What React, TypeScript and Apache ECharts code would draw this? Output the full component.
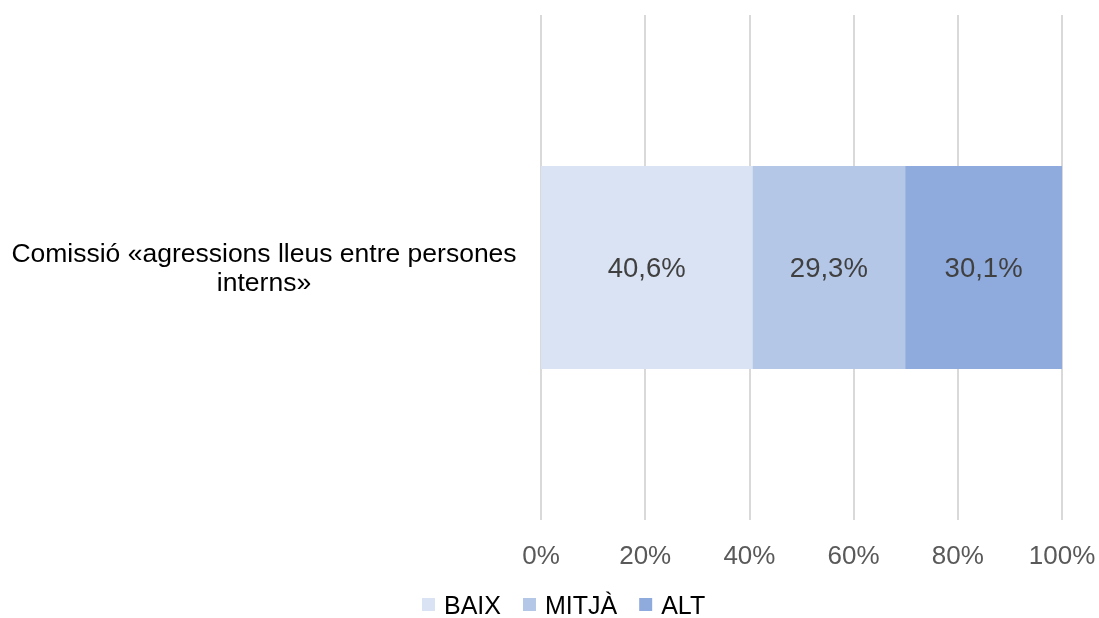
import React, { useEffect, useRef } from "react";
import * as echarts from "echarts";

const categories = ["Comissió «agressions lleus entre persones\ninterns»"];
const seriesNames = ["BAIX", "MITJÀ", "ALT"];
const baix = [40.6];
const mitja = [29.3];
const alt = [30.1];
const colors = ["#DAE3F3", "#B4C7E7", "#8FAADC"];
const tickValues = [0, 20, 40, 60, 80, 100];

export default function App() {
  const ref = useRef<HTMLDivElement>(null);
  useEffect(() => {
    const chart = echarts.init(ref.current!, null, { renderer: "svg" });
    const data = [baix, mitja, alt];
    chart.setOption({
      animation: false,
      textStyle: { fontFamily: "Liberation Sans, Arial, sans-serif" },
      grid: { left: 541, right: 37, top: 15, bottom: 98 },
      xAxis: {
        type: "value",
        min: tickValues[0],
        max: tickValues[tickValues.length - 1],
        interval: 20,
        axisLabel: {
          formatter: "{value}%",
          color: "#595959",
          fontSize: 26,
          margin: 22,
        },
        splitLine: { show: true, lineStyle: { color: "#D9D9D9", width: 2 } },
        axisLine: { show: false },
        axisTick: { show: false },
      },
      yAxis: {
        type: "category",
        data: categories,
        axisLine: { show: false },
        axisTick: { show: false },
        axisLabel: {
          color: "#000000",
          fontSize: 26.5,
          align: "center",
          margin: 277,
          lineHeight: 29,
        },
      },
      legend: {
        top: 592,
        left: 422,
        padding: 0,
        itemWidth: 13,
        itemHeight: 13,
        itemGap: 22,
        icon: "rect",
        textStyle: { fontSize: 25, lineHeight: 21, color: "#000000", padding: [0, 0, 0, 4] },
        data: seriesNames,
      },
      series: seriesNames.map((name, i) => ({
        name,
        type: "bar",
        stack: "total",
        barWidth: 203,
        data: data[i],
        itemStyle: { color: colors[i] },
        label: {
          show: true,
          position: "inside",
          color: "#404040",
          fontSize: 27.5,
          formatter: (p: any) => p.value.toFixed(1).replace(".", ",") + "%",
        },
      })),
    });
    return () => chart.dispose();
  }, []);
  return (
    <div
      ref={ref}
      style={{ position: "fixed", left: 0, top: 0, width: 1099, height: 618 }}
    />
  );
}
